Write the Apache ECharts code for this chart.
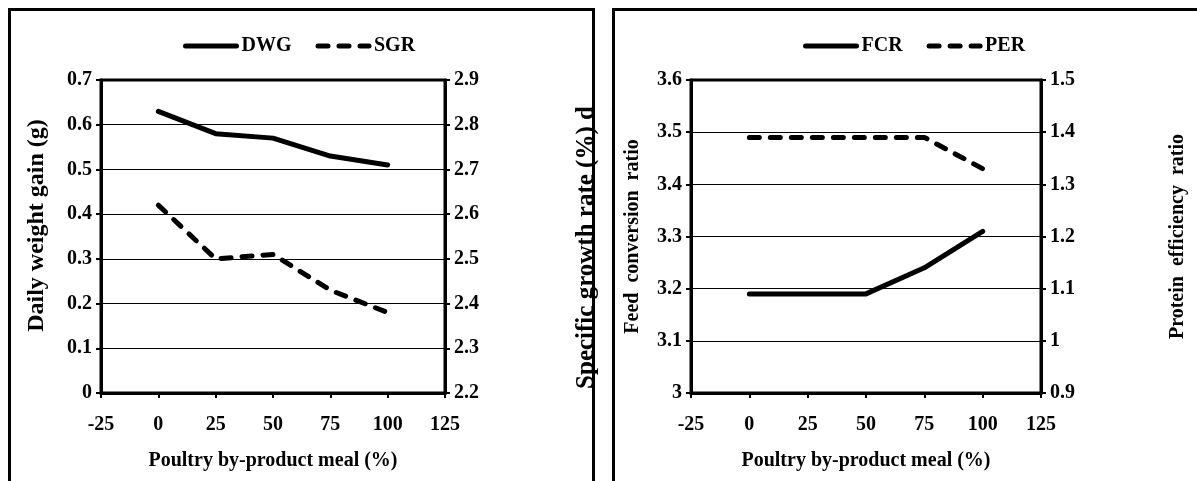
<!DOCTYPE html>
<html>
<head>
<meta charset="utf-8">
<script src="https://cdn.jsdelivr.net/npm/echarts@6/dist/echarts.min.js"></script>
<style>
html,body{margin:0;padding:0;background:#fff;}
#chart{width:1197px;height:481px;}
</style>
</head>
<body>
<div id="chart"></div>
<script>
// ---- data ----
const xValues = [0, 25, 50, 75, 100];
const dwg = [0.63, 0.58, 0.57, 0.53, 0.51];
const sgr = [2.62, 2.50, 2.51, 2.43, 2.38];
const fcr = [3.19, 3.19, 3.19, 3.24, 3.31];
const per = [1.39, 1.39, 1.39, 1.39, 1.33];
const xTitle = 'Poultry by-product meal (%)';
const leftTitles = ['Daily weight gain (g)', 'Specific growth rate (%) d'];
const rightTitles = ['Feed  conversion  ratio', 'Protein  efficiency  ratio'];

const FONT = '"Liberation Serif", "Times New Roman", serif';
const pair = (xs, ys) => xs.map((x, i) => [x, ys[i]]);

function xAxis(gi) {
  return {
    type: 'value', gridIndex: gi, min: -25, max: 125, interval: 25,
    name: xTitle, nameLocation: 'middle', nameGap: 58,
    nameTextStyle: {fontFamily: FONT, fontWeight: 'bold', fontSize: 20, color: '#000'},
    axisLine: {show: true, onZero: false, lineStyle: {color: '#000', width: 3}},
    axisTick: {show: true, inside: false, length: 5, lineStyle: {color: '#000', width: 2}},
    axisLabel: {fontFamily: FONT, fontWeight: 'bold', fontSize: 20, color: '#000', margin: 22},
    splitLine: {show: false}
  };
}
function yAxis(gi, pos, min, max, name, gap, fs, split, pad) {
  return {
    type: 'value', gridIndex: gi, position: pos, min: min, max: max, interval: 0.1,
    name: name, nameLocation: 'middle', nameGap: gap,
    nameTextStyle: {fontFamily: FONT, fontWeight: 'bold', fontSize: fs, color: '#000', padding: pad},
    axisLine: {show: true, onZero: false, lineStyle: {color: '#000', width: 3}},
    axisTick: {show: true, inside: false, length: 5, lineStyle: {color: '#000', width: 2}},
    axisLabel: {fontFamily: FONT, fontWeight: 'bold', fontSize: 20, color: '#000', margin: 9,
      formatter: v => String(Math.round(v * 10) / 10)},
    splitLine: {show: split, lineStyle: {color: '#000', width: 1}}
  };
}
function lineSeries(name, xi, yi, data, dashed) {
  return {
    type: 'line', name: name, xAxisIndex: xi, yAxisIndex: yi,
    data: data, symbol: 'none', showSymbol: false, smooth: false,
    lineStyle: {color: '#000', width: 5, type: dashed ? [10, 11] : 'solid', cap: 'round', join: 'round'},
    itemStyle: {color: '#000'}
  };
}
function legend(left, names) {
  return {
    left: left, top: 31, itemWidth: 51, itemHeight: 14, itemGap: 24,
    textStyle: {fontFamily: FONT, fontWeight: 'bold', fontSize: 20, color: '#000'},
    itemStyle: {opacity: 0},
    lineStyle: {width: 5, color: '#000'},
    data: names
  };
}

const chart = echarts.init(document.getElementById('chart'), null, {renderer: 'canvas'});
chart.setOption({
  animation: false,
  backgroundColor: '#fff',
  grid: [
    {left: 101, top: 80, width: 344, height: 313, show: true, borderColor: '#000', borderWidth: 3, backgroundColor: 'transparent'},
    {left: 691, top: 80, width: 350, height: 313, show: true, borderColor: '#000', borderWidth: 3, backgroundColor: 'transparent'}
  ],
  legend: [legend(178, ['DWG', 'SGR']), legend(798, ['FCR', 'PER'])],
  xAxis: [xAxis(0), xAxis(1)],
  yAxis: [
    yAxis(0, 'left', 0, 0.7, leftTitles[0], 52, 24, true, [0, 0, 0, 22]),
    yAxis(0, 'right', 2.2, 2.9, leftTitles[1], 129, 25, false, [0, 22, 0, 0]),
    yAxis(1, 'left', 3, 3.6, rightTitles[0], 48, 20, true, 0),
    yAxis(1, 'right', 0.9, 1.5, rightTitles[1], 127, 20, false, 0)
  ],
  series: [
    lineSeries('DWG', 0, 0, pair(xValues, dwg), false),
    lineSeries('SGR', 0, 1, pair(xValues, sgr), true),
    lineSeries('FCR', 1, 2, pair(xValues, fcr), false),
    lineSeries('PER', 1, 3, pair(xValues, per), true)
  ],
  graphic: [
    {type: 'rect', z: 100, silent: true, shape: {x: 9.5, y: 9.5, width: 584, height: 500},
     style: {fill: null, stroke: '#000', lineWidth: 3}},
    {type: 'rect', z: 100, silent: true, shape: {x: 613.5, y: 9.5, width: 585, height: 500},
     style: {fill: null, stroke: '#000', lineWidth: 3}}
  ]
});
</script>
</body>
</html>
